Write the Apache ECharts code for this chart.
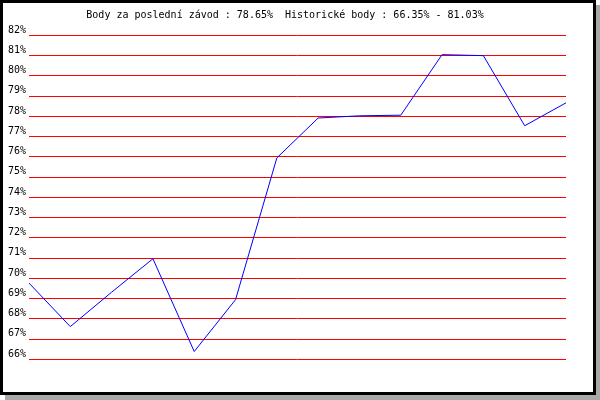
<!DOCTYPE html>
<html>
<head>
<meta charset="utf-8">
<script src="https://cdn.jsdelivr.net/npm/echarts@6/dist/echarts.min.js"></script>
<style>html,body{margin:0;padding:0;background:#fff}#c{width:600px;height:400px}</style>
</head>
<body>
<div id="c"></div>
<script>
const titleText = 'Body za poslední závod : 78.65%  Historické body : 66.35% - 81.03%';
const races = ['1','2','3','4','5','6','7','8','9','10','11','12','13','14'];
const points = [69.75, 67.6, 69.3, 70.95, 66.37, 68.93, 75.93, 77.9, 78.01, 78.04, 81.03, 80.98, 77.52, 78.65];
const yMin = 66, yMax = 82, yStep = 1;

const chart = echarts.init(document.getElementById('c'), null, {renderer: 'canvas'});
chart.setOption({
  animation: false,
  backgroundColor: 'transparent',
  graphic: [
    {type: 'rect', z: -10, shape: {x: 5, y: 5, width: 595, height: 395}, style: {fill: '#a9a9a9'}},
    {type: 'rect', z: -9, shape: {x: 1.5, y: 1.5, width: 593, height: 392}, style: {fill: '#fff', stroke: '#000', lineWidth: 3}}
  ],
  title: {
    text: titleText,
    left: 280, top: 5, textAlign: 'center',
    textStyle: {fontFamily: 'DejaVu Sans Mono', fontSize: 10, fontWeight: 'normal', color: '#000'}
  },
  grid: {left: 29, right: 34, top: 35, bottom: 41},
  xAxis: {
    type: 'category', data: races, boundaryGap: false,
    axisLine: {show: false}, axisTick: {show: false}, axisLabel: {show: false}, splitLine: {show: false}
  },
  yAxis: {
    type: 'value', min: yMin, max: yMax, interval: yStep,
    axisLine: {show: false}, axisTick: {show: false},
    axisLabel: {
      formatter: v => v + '%', margin: 3, verticalAlign: 'bottom',
      fontFamily: 'DejaVu Sans Mono', fontSize: 10, color: '#000'
    },
    splitLine: {show: true, lineStyle: {color: '#ff0000', width: 1}}
  },
  series: [{
    type: 'line', data: points, symbol: 'none',
    lineStyle: {color: '#0000ff', width: 1}
  }]
});
</script>
</body>
</html>
